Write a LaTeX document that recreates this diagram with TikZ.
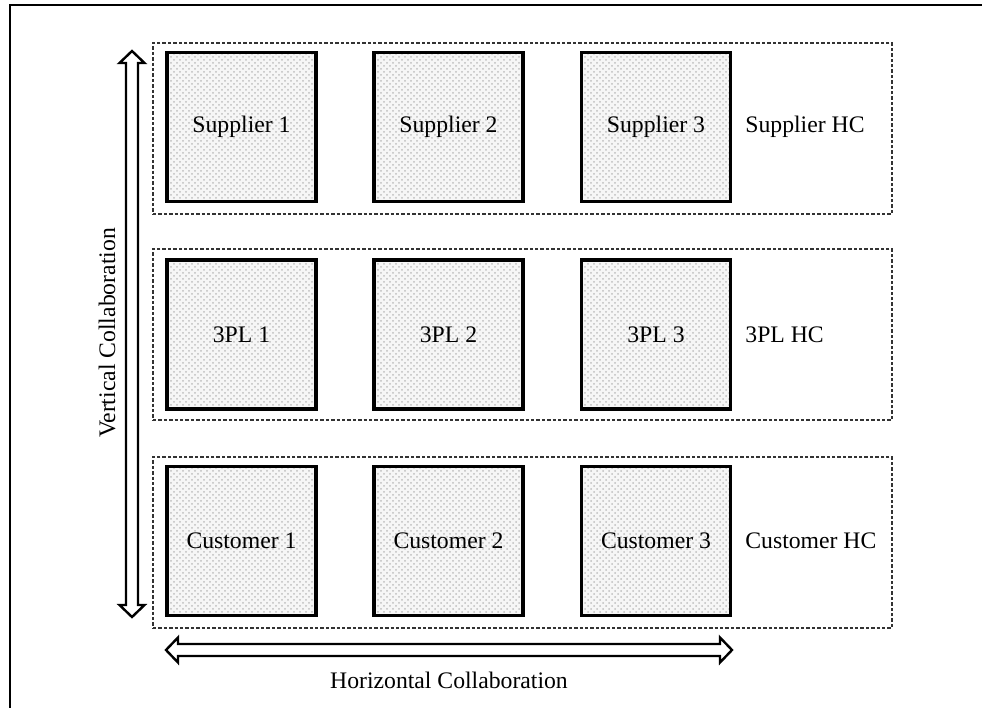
\documentclass[tikz,border=0pt]{standalone}
\usepackage{fontspec}
\setmainfont{Liberation Serif}
\usetikzlibrary{patterns}
\tikzset{
  party/.style={draw, line width=1.6pt, preaction={fill=gray!7},
    pattern=crosshatch dots, pattern color=gray!50,
    minimum width=74.5pt, minimum height=74.5pt, inner sep=0pt},
  hcbox/.style={draw=black!80, line width=0.65pt, dash pattern=on 1.7pt off 1pt,
    minimum width=369.5pt, minimum height=85.5pt, inner sep=0pt},
  hclabel/.style={anchor=west, inner sep=0pt},
  blockarrow/.style={draw, line width=1.2pt, line join=miter, fill=white},
  frame/.style={draw, line width=1.4pt}
}
\begin{document}
\begin{tikzpicture}[x=0.5pt, y=-0.5pt, font=\fontsize{11.85}{14}\selectfont]
\useasboundingbox (0,0) rectangle (982,708);
% outer frame (runs past the right and bottom edges)
\draw[frame] (1000,720) |- (10,5) -- (10,720);

% horizontal collaboration groups
\node[hcbox] (rowS) at (522.5,128.5) {};
\node[hcbox] (rowP) at (522.5,334.5) {};
\node[hcbox] (rowC) at (522.5,542.5) {};

% suppliers
\node[party] (s1) at (241.5,127) {Supplier 1};
\node[party] (s2) at (448.5,127) {Supplier 2};
\node[party] (s3) at (656,127) {Supplier 3};
\node[hclabel] (sHC) at (745,127) {Supplier HC};

% third-party logistics providers
\node[party] (p1) at (241.5,334.5) {3PL 1};
\node[party] (p2) at (448.5,334.5) {3PL 2};
\node[party] (p3) at (656,334.5) {3PL 3};
\node[hclabel] (pHC) at (745,334.5) {3PL HC};

% customers
\node[party] (c1) at (241.5,541) {Customer 1};
\node[party] (c2) at (448.5,541) {Customer 2};
\node[party] (c3) at (656,541) {Customer 3};
\node[hclabel] (cHC) at (745,541) {Customer HC};

% vertical double block arrow
\draw[blockarrow] (132,51) -- (144.5,63) -- (138,63) -- (138,605) -- (144.5,605)
  -- (132,617) -- (119.5,605) -- (126,605) -- (126,63) -- (119.5,63) -- cycle;
\node[rotate=90] (vlab) at (107,333) {Vertical Collaboration};

% horizontal double block arrow
\draw[blockarrow] (166,650) -- (178,637.5) -- (178,644) -- (720,644) -- (720,637.5)
  -- (732,650) -- (720,662.5) -- (720,656) -- (178,656) -- (178,662.5) -- cycle;
\node (hlab) at (449,680) {Horizontal Collaboration};
\end{tikzpicture}
\end{document}
